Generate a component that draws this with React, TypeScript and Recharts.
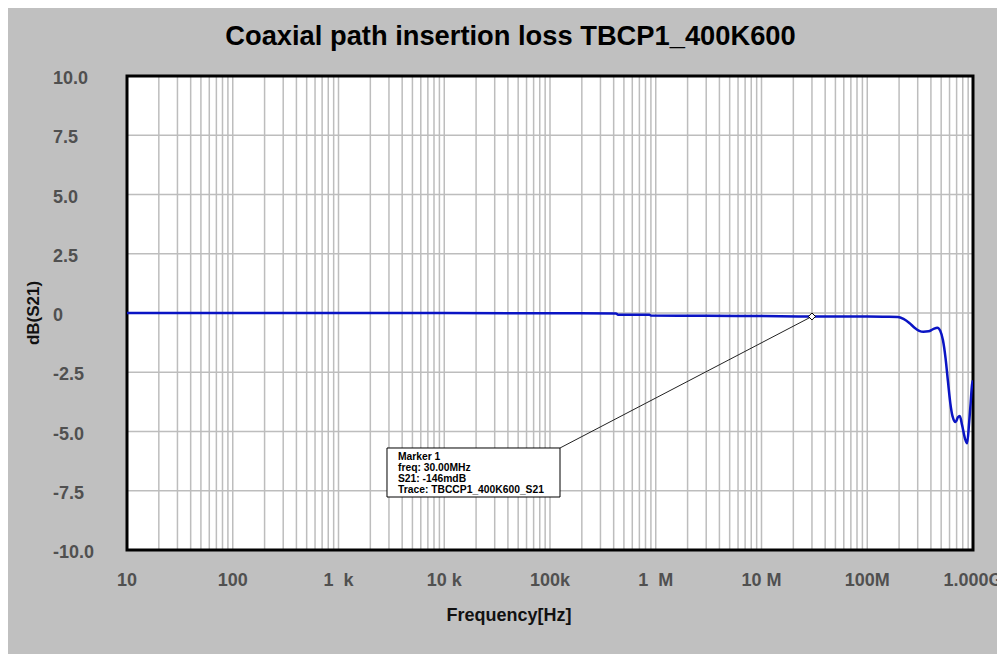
import React from 'react';
import {
  LineChart,
  Line,
  XAxis,
  YAxis,
  CartesianGrid,
  ReferenceArea,
  ReferenceLine,
  ReferenceDot,
} from 'recharts';

// ---- data ----
const FREQ_HZ = [
  10, 100, 1e3, 1e4, 1e5, 4.2e5, 4.4e5, 8.7e5, 9.0e5, 3e6, 1e7, 3e7, 6e7, 1.0e8,
  1.5e8, 1.95e8, 2.2e8, 2.5e8, 2.8e8, 3.1e8, 3.4e8, 3.8e8, 4.2e8, 4.6e8, 4.9e8,
  5.2e8, 5.5e8, 5.8e8, 6.1e8, 6.4e8, 6.85e8, 7.2e8, 7.5e8, 7.9e8, 8.4e8, 8.8e8,
  9.2e8, 9.5e8, 9.8e8, 1e9,
];
const S21_DB = [
  0, 0, 0, 0, -0.01, -0.02, -0.07, -0.07, -0.11, -0.115, -0.13, -0.146, -0.15, -0.15,
  -0.16, -0.17, -0.25, -0.42, -0.62, -0.75, -0.79, -0.77, -0.68, -0.62, -0.75,
  -1.15, -1.9, -2.9, -3.8, -4.35, -4.6, -4.4, -4.35, -4.75, -5.3, -5.5,
  -4.6, -3.8, -3.0, -2.85,
];

const DECADES = [10, 100, 1e3, 1e4, 1e5, 1e6, 1e7, 1e8, 1e9];
const DECADE_LABELS = ['10', '100', '1  k', '10 k', '100k', '1  M', '10 M', '100M', '1.000G'];
const MINOR_STEPS = [1, 2, 3, 4, 5, 6, 7, 8, 9];

const Y_TICKS = [-10, -7.5, -5, -2.5, 0, 2.5, 5, 7.5, 10];
const Y_TICK_LABELS = ['-10.0', '-7.5', '-5.0', '-2.5', '0', '2.5', '5.0', '7.5', '10.0'];

const MARKER_FREQ = 3e7;
const MARKER_DB = -0.146;
const MARKER_LINES = ['Marker 1', 'freq: 30.00MHz', 'S21: -146mdB', 'Trace: TBCCP1_400K600_S21'];
const MARKER_BOX_F = [2874, 124340];
const MARKER_BOX_DB = [-7.764, -5.696];

const TITLE = 'Coaxial path insertion loss TBCP1_400K600';
const X_LABEL = 'Frequency[Hz]';
const Y_LABEL = 'dB(S21)';

// ---- derived ----
const X_TICKS: number[] = [];
DECADES.slice(0, -1).forEach((d) => MINOR_STEPS.forEach((m) => X_TICKS.push(d * m)));
X_TICKS.push(DECADES[DECADES.length - 1]);

const data = FREQ_HZ.map((f, i) => ({ f, s21: S21_DB[i] }));

const FONT = '"Liberation Sans", Arial, sans-serif';
const TICK_COLOR = '#505050';

const XTick = (props: any) => {
  const { x, payload } = props;
  const idx = DECADES.indexOf(payload.value);
  if (idx < 0) return null;
  return (
    <text
      x={x}
      y={578}
      textAnchor="middle"
      fontFamily={FONT}
      fontSize={18}
      fontWeight="bold"
      fill={TICK_COLOR}
      style={{ whiteSpace: 'pre' }}
    >
      {DECADE_LABELS[idx]}
    </text>
  );
};

const YTick = (props: any) => {
  const { y, payload } = props;
  const idx = Y_TICKS.indexOf(payload.value);
  return (
    <text
      x={45}
      y={y}
      dy={8}
      textAnchor="start"
      fontFamily={FONT}
      fontSize={18}
      fontWeight="bold"
      fill={TICK_COLOR}
    >
      {idx >= 0 ? Y_TICK_LABELS[idx] : ''}
    </text>
  );
};

const YLabel = (props: any) => {
  const vb = props.viewBox || {};
  const cy = (vb.y || 0) + (vb.height || 0) / 2;
  return (
    <text
      x={25}
      y={cy}
      transform={`rotate(-90 25 ${cy})`}
      textAnchor="middle"
      dominantBaseline="central"
      fontFamily={FONT}
      fontSize={17}
      fontWeight="bold"
      fill="#111"
    >
      {Y_LABEL}
    </text>
  );
};

const XLabel = (props: any) => {
  return (
    <text
      x={501}
      y={613}
      textAnchor="middle"
      fontFamily={FONT}
      fontSize={18}
      fontWeight="bold"
      fill="#111"
    >
      {X_LABEL}
    </text>
  );
};

const MarkerBoxLabel = (props: any) => {
  const vb = props.viewBox || {};
  return (
    <g>
      {MARKER_LINES.map((t, i) => (
        <text
          key={i}
          x={(vb.x || 0) + 11}
          y={(vb.y || 0) + 12 + i * 11}
          fontFamily={FONT}
          fontSize={10.3}
          fontWeight="bold"
          fill="#000"
        >
          {t}
        </text>
      ))}
    </g>
  );
};

const Diamond = (props: any) => {
  const { cx, cy } = props;
  const r = 3.5;
  return (
    <polygon
      points={`${cx},${cy - r} ${cx + r},${cy} ${cx},${cy + r} ${cx - r},${cy}`}
      fill="#fff"
      stroke="#000"
      strokeWidth={1}
    />
  );
};

export default function App() {
  return (
    <div style={{ position: 'relative', width: 997, height: 646, background: '#c0c0c0' }}>
      <div
        style={{
          position: 'absolute',
          top: 14,
          left: 4,
          width: 997,
          textAlign: 'center',
          fontFamily: FONT,
          fontSize: 27.3,
          lineHeight: '28px',
          fontWeight: 'bold',
          color: '#000',
        }}
      >
        {TITLE}
      </div>
      <LineChart
        width={997}
        height={646}
        data={data}
        margin={{ top: 68, right: 32, bottom: 44, left: 0 }}
        style={{ position: 'absolute', top: 0, left: 0 }}
      >
        <CartesianGrid
          fill="#ffffff"
          fillOpacity={1}
          stroke="#bdbdbd"
          strokeWidth={1.5}
          horizontal
          vertical
        />
        <XAxis
          dataKey="f"
          type="number"
          scale="log"
          domain={[10, 1e9]}
          ticks={X_TICKS}
          interval={0}
          allowDataOverflow
          axisLine={false}
          tickLine={false}
          height={60}
          tick={<XTick />}
          label={<XLabel />}
        />
        <YAxis
          type="number"
          domain={[-10, 10]}
          ticks={Y_TICKS}
          interval={0}
          allowDataOverflow
          axisLine={false}
          tickLine={false}
          width={119}
          tick={<YTick />}
          label={<YLabel />}
        />
        <Line
          type="monotone"
          dataKey="s21"
          stroke="#0a14c4"
          strokeWidth={2.5}
          dot={false}
          activeDot={false}
          isAnimationActive={false}
        />
        <ReferenceLine
          segment={[
            { x: MARKER_FREQ, y: MARKER_DB },
            { x: MARKER_BOX_F[1], y: MARKER_BOX_DB[1] },
          ]}
          stroke="#222"
          strokeWidth={1}
        />
        <ReferenceArea
          x1={MARKER_BOX_F[0]}
          x2={MARKER_BOX_F[1]}
          y1={MARKER_BOX_DB[0]}
          y2={MARKER_BOX_DB[1]}
          fill="#ffffff"
          fillOpacity={1}
          stroke="#000"
          strokeWidth={1}
          label={MarkerBoxLabel}
        />
        <ReferenceDot x={MARKER_FREQ} y={MARKER_DB} r={4} shape={<Diamond />} />
        <ReferenceArea
          x1={10}
          x2={1e9}
          y1={-10}
          y2={10}
          fill="none"
          stroke="#000"
          strokeWidth={3}
        />
      </LineChart>
    </div>
  );
}
